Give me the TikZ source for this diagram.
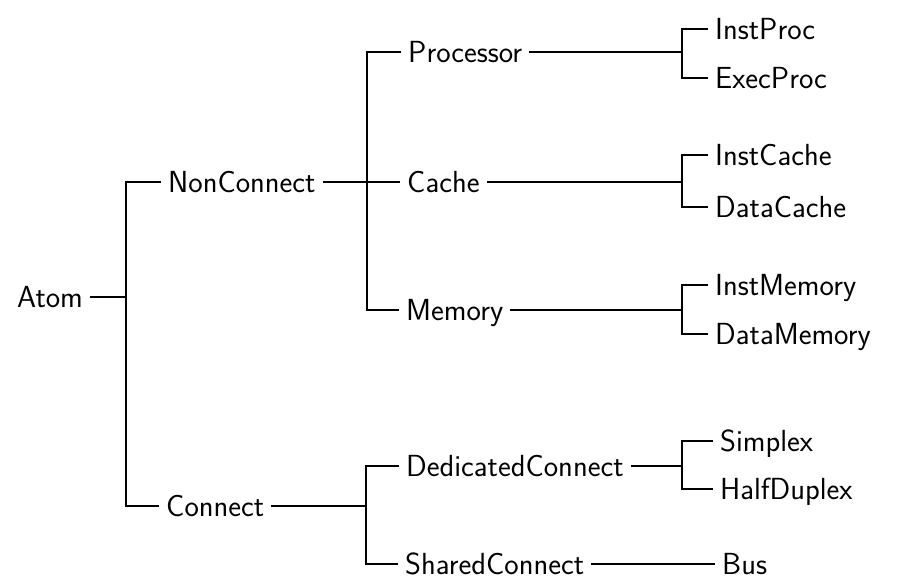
\documentclass[tikz,border=0pt]{standalone}
\begin{document}
\begin{tikzpicture}[x=1pt,y=-1pt,
  lbl/.style={anchor=west,inner xsep=7pt,inner ysep=0pt,text height=21pt,text depth=0pt,
    font=\fontsize{30.5}{36}\selectfont\sffamily},
  edge/.style={line width=1.7pt,line join=miter}]
\useasboundingbox (0,0) rectangle (897,582);
% level 0-1
\node[lbl] (atom) at (10,297) {Atom};
\node[lbl] (nonconnect) at (161,182) {NonConnect};
\node[lbl] (connect) at (159,506) {Connect};
% level 2
\node[lbl] (processor) at (401,52) {Processor};
\node[lbl] (cache) at (400,182) {Cache};
\node[lbl] (memory) at (399,310) {Memory};
\node[lbl] (dedicated) at (399,466) {DedicatedConnect};
\node[lbl] (shared) at (398,564) {SharedConnect};
% level 3
\node[lbl] (instproc) at (708,29) {InstProc};
\node[lbl] (execproc) at (708,78) {ExecProc};
\node[lbl] (instcache) at (708,155) {InstCache};
\node[lbl] (datacache) at (708,207) {DataCache};
\node[lbl] (instmemory) at (708,285) {InstMemory};
\node[lbl] (datamemory) at (708,334) {DataMemory};
\node[lbl] (simplex) at (713,441) {Simplex};
\node[lbl] (halfduplex) at (713,489) {HalfDuplex};
\node[lbl] (bus) at (715,564) {Bus};
% junctions
\coordinate (j1) at (126,297);
\coordinate (j2) at (367,182);
\coordinate (j3) at (366,506);
\coordinate (k1) at (682,52);
\coordinate (k2) at (682,182);
\coordinate (k3) at (682,310);
\coordinate (k4) at (682,466);
% connectors
\draw[edge] (atom.east) -- (j1);
\draw[edge] (nonconnect.west) -| (j1) |- (connect.west);
\draw[edge] (nonconnect.east) -- (cache.west);
\draw[edge] (processor.west) -| (j2) |- (memory.west);
\draw[edge] (connect.east) -- (j3);
\draw[edge] (dedicated.west) -| (j3) |- (shared.west);
\draw[edge] (processor.east) -- (k1);
\draw[edge] (instproc.west) -| (k1) |- (execproc.west);
\draw[edge] (cache.east) -- (k2);
\draw[edge] (instcache.west) -| (k2) |- (datacache.west);
\draw[edge] (memory.east) -- (k3);
\draw[edge] (instmemory.west) -| (k3) |- (datamemory.west);
\draw[edge] (dedicated.east) -- (k4);
\draw[edge] (simplex.west) -| (k4) |- (halfduplex.west);
\draw[edge] (shared.east) -- (bus.west);
\end{tikzpicture}
\end{document}
